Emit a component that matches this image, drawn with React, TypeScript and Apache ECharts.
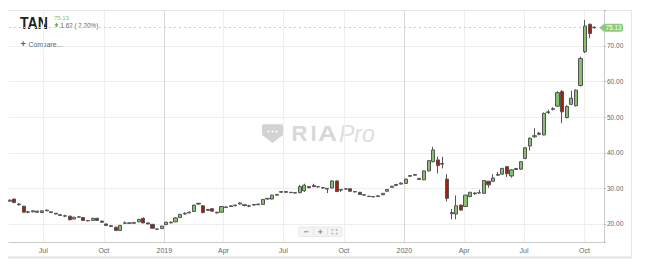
import React, { useEffect, useRef } from 'react';
import * as echarts from 'echarts';

// Weekly candles, first week ending Fri 2018-05-11
const firstWeek = Date.UTC(2018, 4, 11);
const WEEK = 7 * 86400000;

const opens = [
  26.4, 27.0, 25.6, 25.0, 23.4, 23.4, 23.6, 23.2, 23.9, 23.4,
  23.0, 22.6, 22.2, 22.2, 21.4, 21.9, 21.8, 21.0, 21.0, 21.6,
  20.8, 20.0, 19.5, 19.1, 18.2, 20.2, 20.3, 20.2, 20.6, 21.6,
  20.3, 19.9, 18.6, 18.7, 19.8, 20.3, 20.6, 21.8, 22.8, 23.1,
  23.5, 25.8, 25.1, 23.8, 24.3, 23.3, 23.3, 24.6, 24.9, 25.1,
  25.6, 25.4, 25.1, 25.3, 25.4, 25.5, 27.0, 27.0, 28.1, 28.9,
  29.1, 28.9, 28.8, 28.8, 29.3, 30.5, 30.8, 30.5, 30.2, 30.0,
  30.1, 32.1, 29.5, 29.8, 29.9, 29.1, 28.9, 28.2, 27.8, 27.7,
  27.7, 28.2, 29.2, 30.3, 30.8, 31.2, 31.4, 33.4, 33.9, 32.8,
  32.4, 34.9, 37.5, 38.0, 36.8, 32.6, 23.2, 22.8, 25.3, 24.9,
  27.7, 28.7, 28.7, 28.6, 32.0, 32.0, 33.7, 34.0, 36.1, 33.5,
  35.6, 35.4, 38.4, 41.9, 44.5, 45.5, 45.0, 51.3, 52.2, 53.1,
  57.2, 49.9, 53.6, 53.2, 58.9, 68.4, 76.1, 75.3,
];
const closes = [
  26.7, 26.0, 25.4, 23.3, 23.3, 23.7, 23.3, 23.7, 23.7, 23.2,
  22.8, 22.4, 22.3, 21.2, 21.9, 22.0, 21.0, 20.9, 21.6, 21.0,
  20.5, 19.6, 19.3, 18.2, 19.6, 20.3, 20.2, 20.4, 21.3, 20.3,
  20.0, 18.8, 18.5, 19.4, 20.5, 20.5, 21.7, 22.7, 23.0, 23.3,
  25.3, 25.6, 23.2, 24.1, 23.6, 23.1, 24.9, 24.8, 25.1, 25.3,
  25.9, 25.2, 25.0, 25.5, 25.6, 26.9, 27.2, 28.1, 28.3, 29.1,
  28.9, 28.8, 28.7, 30.5, 30.9, 30.2, 30.5, 30.4, 30.1, 29.8,
  32.1, 29.1, 29.7, 29.9, 29.2, 29.0, 28.3, 28.1, 27.7, 27.6,
  27.9, 28.6, 29.7, 30.6, 31.1, 31.5, 32.6, 33.6, 33.7, 32.5,
  34.9, 37.8, 40.8, 36.4, 37.0, 27.2, 22.9, 25.1, 23.9, 28.1,
  28.9, 28.5, 28.8, 32.2, 31.0, 32.9, 33.9, 35.6, 34.1, 35.2,
  35.3, 37.5, 41.4, 44.1, 44.8, 45.2, 51.1, 51.5, 52.4, 56.9,
  51.5, 53.0, 55.3, 57.6, 66.5, 75.6, 73.51, 75.13,
];
const lows = [
  26.2, 25.9, 25.2, 23.2, 23.0, 23.3, 23.2, 23.1, 23.6, 23.1,
  22.7, 22.3, 21.9, 21.0, 21.3, 21.8, 20.9, 20.7, 20.9, 20.9,
  20.4, 19.5, 19.2, 18.1, 18.0, 20.0, 20.1, 20.1, 20.5, 20.2,
  19.9, 18.7, 18.4, 18.6, 19.7, 20.2, 20.5, 21.7, 22.6, 23.0,
  23.4, 25.3, 23.0, 23.7, 23.5, 23.0, 23.2, 24.5, 24.8, 25.0,
  25.4, 24.9, 24.7, 25.2, 25.3, 25.4, 26.9, 26.9, 27.9, 28.8,
  28.8, 28.7, 28.6, 28.6, 29.0, 30.0, 30.3, 30.3, 29.9, 28.7,
  30.0, 29.0, 29.0, 29.6, 29.1, 28.9, 28.2, 28.0, 27.6, 27.5,
  27.6, 28.1, 29.1, 30.2, 30.7, 31.1, 31.3, 33.3, 33.6, 32.4,
  32.3, 34.8, 37.3, 34.2, 35.6, 26.3, 21.3, 21.3, 23.7, 24.8,
  27.5, 28.2, 28.6, 28.5, 30.2, 31.8, 33.5, 33.9, 33.2, 33.0,
  35.2, 35.2, 38.2, 40.6, 44.2, 44.9, 44.9, 50.9, 51.9, 53.0,
  48.3, 49.6, 53.4, 53.0, 58.6, 68.0, 72.2, 74.9,
];
const highs = [
  26.9, 27.1, 25.9, 25.1, 23.7, 23.8, 23.7, 23.8, 24.0, 23.5,
  23.1, 22.7, 22.6, 22.3, 22.0, 22.2, 21.9, 21.1, 21.7, 21.7,
  20.9, 20.1, 19.6, 19.2, 19.7, 20.7, 20.5, 20.5, 21.4, 21.8,
  20.4, 20.0, 18.7, 19.5, 20.6, 20.7, 21.9, 22.8, 23.3, 23.5,
  25.4, 25.9, 25.3, 24.2, 24.4, 23.4, 25.0, 24.9, 25.2, 25.4,
  26.1, 25.6, 25.4, 25.6, 25.7, 27.0, 27.3, 28.2, 28.4, 29.2,
  29.2, 29.0, 28.9, 31.0, 31.3, 30.7, 31.3, 30.6, 30.4, 30.1,
  32.3, 32.2, 29.8, 30.0, 30.0, 29.2, 29.0, 28.3, 27.9, 27.8,
  28.0, 28.7, 29.8, 30.7, 31.2, 31.7, 32.7, 33.7, 34.0, 32.9,
  35.0, 38.0, 41.7, 38.9, 38.9, 34.0, 24.2, 28.0, 25.5, 28.2,
  29.0, 28.9, 29.6, 32.3, 32.1, 34.0, 34.6, 35.8, 36.3, 35.4,
  35.7, 37.7, 41.6, 44.3, 46.9, 45.9, 51.3, 52.1, 52.8, 57.3,
  57.6, 53.4, 57.4, 57.8, 67.0, 77.3, 76.3, 75.4,
];

const quarterTicks = [
  '2018-07-01', '2018-10-01', '2019-01-01', '2019-04-01', '2019-07-01',
  '2019-10-01', '2020-01-01', '2020-04-01', '2020-07-01', '2020-10-01',
];
const quarterLabels = ['Jul', 'Oct', '2019', 'Apr', 'Jul', 'Oct', '2020', 'Apr', 'Jul', 'Oct'];
const yearTicks = ['2019-01-01', '2020-01-01'];
const yTickValues = [20, 30, 40, 50, 60, 70, 80];

const symbol = 'TAN';
const lastPrice = 75.13;
const change = 1.62;
const changePct = 2.2;

const FONT = '"Liberation Sans", Arial, Helvetica, sans-serif';

function ts(s: string) {
  const [y, m, d] = s.split('-').map(Number);
  return Date.UTC(y, m - 1, d);
}

export default function App() {
  const ref = useRef<HTMLDivElement>(null);

  useEffect(() => {
    document.body.style.margin = '0';
    const chart = echarts.init(ref.current!, null, { renderer: 'svg' });
    const tickMs = quarterTicks.map(ts);
    const data = opens.map((o, i) => [firstWeek + i * WEEK, o, closes[i], lows[i], highs[i]]);

    const vLines = tickMs.map((t, i) => ({
      xAxis: t,
      lineStyle: {
        color: yearTicks.indexOf(quarterTicks[i]) >= 0 ? '#d9d9d9' : '#efefef',
        width: 1,
        type: 'solid',
      },
    }));

    chart.setOption({
      animation: false,
      backgroundColor: '#fff',
      grid: { left: 9, right: 41, top: 10.4, bottom: 22.7, containLabel: false },
      xAxis: {
        type: 'value',
        min: Date.UTC(2018, 4, 9, 19),
        max: Date.UTC(2020, 9, 30, 17),
        axisLine: { show: true, lineStyle: { color: '#cccccc', width: 1 } },
        axisTick: { show: false },
        splitLine: { show: false },
        axisLabel: {
          customValues: tickMs,
          formatter: (v: number) => {
            let best = 0;
            let bd = Infinity;
            tickMs.forEach((t, i) => {
              const d = Math.abs(t - v);
              if (d < bd) { bd = d; best = i; }
            });
            return quarterLabels[best];
          },
          color: '#666',
          fontSize: 7,
          fontFamily: FONT,
          margin: 5,
        },
      },
      yAxis: {
        type: 'value',
        position: 'right',
        min: 14.85,
        max: 80,
        axisLine: { show: true, lineStyle: { color: '#cccccc', width: 1 } },
        axisTick: { show: true, length: 2, lineStyle: { color: '#bbbbbb' } },
        splitLine: { show: true, lineStyle: { color: '#eeeeee', width: 1 } },
        axisLabel: {
          formatter: (v: number) =>
            yTickValues.indexOf(Math.round(v * 100) / 100) >= 0 && v < 75 ? v.toFixed(2) : '',
          color: '#666',
          fontSize: 6.5,
          fontFamily: FONT,
          margin: 3,
        },
      },
      series: [
        {
          type: 'candlestick',
          data,
          encode: { x: 0, y: [1, 2, 3, 4] },
          barWidth: 3.6,
          itemStyle: {
            color: '#86c06e',
            color0: '#a81d0b',
            borderColor: '#555555',
            borderColor0: '#555555',
            borderColorDoji: '#555555',
            borderWidth: 1,
          },
          markLine: {
            silent: true,
            symbol: ['none', 'none'],
            z: 1,
            label: { show: false },
            data: [
              ...vLines,
              {
                yAxis: lastPrice,
                lineStyle: { color: '#b9dfa8', width: 1, type: [2, 3] },
              },
            ],
          },
        },
      ],
    });

    const py = chart.convertToPixel({ yAxisIndex: 0 }, lastPrice) as number;

    chart.setOption({
      graphic: [
        // card border
        { type: 'line', shape: { x1: 8, y1: 10.5, x2: 632, y2: 10.5 }, style: { stroke: '#e6e6e6', lineWidth: 1 }, silent: true },
        { type: 'line', shape: { x1: 631.5, y1: 10, x2: 631.5, y2: 258 }, style: { stroke: '#e6e6e6', lineWidth: 1 }, silent: true },
        { type: 'line', shape: { x1: 8, y1: 257.5, x2: 632, y2: 257.5 }, style: { stroke: '#e3e3e3', lineWidth: 2 }, silent: true },
        // header
        { type: 'text', x: 20, y: 15, style: { text: symbol, fontSize: 16, fontWeight: 'bold', fontFamily: FONT, fill: '#222', textVerticalAlign: 'top' }, scaleX: 0.88 },
        { type: 'text', x: 54, y: 14.5, style: { text: lastPrice.toFixed(2), fontSize: 6, fontFamily: FONT, fill: '#8bc34a', textVerticalAlign: 'top' } },
        { type: 'polygon', shape: { points: [[56.5, 22.8], [58.8, 25.2], [57.3, 25.2], [57.3, 27], [55.7, 27], [55.7, 25.2], [54.2, 25.2]] }, style: { fill: '#6ab04c' } },
        { type: 'text', x: 60.5, y: 22.3, style: { text: `${change.toFixed(2)} ( ${changePct.toFixed(2)}%)`, fontSize: 6.3, fontFamily: FONT, fill: '#666', textVerticalAlign: 'top' } },
        { type: 'text', x: 20.5, y: 39.5, style: { text: '+', fontSize: 9, fontWeight: 'bold', fontFamily: FONT, fill: '#1f62c8', textVerticalAlign: 'top' } },
        { type: 'text', x: 28.5, y: 41, style: { text: 'Compare...', fontSize: 6.8, fontFamily: FONT, fill: '#666', textVerticalAlign: 'top' } },
        // price tag
        { type: 'polygon', shape: { points: [[599.3, py], [604, py - 3.9], [604, py + 3.9]] }, style: { fill: '#8dc97a' }, z: 10 },
        { type: 'rect', shape: { x: 603.5, y: py - 3.9, width: 19.5, height: 7.8, r: 2 }, style: { fill: '#8dc97a' }, z: 10 },
        { type: 'text', x: 613.5, y: py, style: { text: lastPrice.toFixed(2), fontSize: 6.3, fontFamily: FONT, fill: '#fff', align: 'center', verticalAlign: 'middle' }, z: 11 },
        // watermark
        { type: 'polygon', shape: { points: [[262, 125.5], [263, 124.2], [282, 124.2], [283, 125.5], [283, 135], [272.5, 143], [262, 135]] }, style: { fill: '#d3d3d3' }, silent: true },
        { type: 'circle', shape: { cx: 268.5, cy: 131.5, r: 1.1 }, style: { fill: '#fff' }, silent: true },
        { type: 'circle', shape: { cx: 272.5, cy: 131.5, r: 1.1 }, style: { fill: '#fff' }, silent: true },
        { type: 'circle', shape: { cx: 276.5, cy: 131.5, r: 1.1 }, style: { fill: '#fff' }, silent: true },
        { type: 'text', x: 291.5, y: 133.5, style: { text: 'R', fontSize: 22, fontWeight: 'bold', fontFamily: FONT, fill: '#d8d8d8', verticalAlign: 'middle' }, silent: true },
        { type: 'text', x: 310.5, y: 133.5, style: { text: 'I', fontSize: 22, fontWeight: 'bold', fontFamily: FONT, fill: '#d8d8d8', verticalAlign: 'middle' }, silent: true },
        { type: 'text', x: 318, y: 133.5, style: { text: 'A', fontSize: 22, fontWeight: 'bold', fontFamily: FONT, fill: '#d8d8d8', verticalAlign: 'middle' }, scaleX: 1.2, silent: true },
        { type: 'text', x: 339, y: 133.5, style: { text: 'Pro', fontSize: 23, fontStyle: 'italic', fontFamily: FONT, fill: '#dedede', verticalAlign: 'middle' }, silent: true },
        // zoom control
        { type: 'rect', shape: { x: 299, y: 227, width: 43, height: 9.5, r: 1 }, style: { fill: '#f4f4f4', stroke: '#e8e8e8', lineWidth: 1 }, silent: true },
        { type: 'line', shape: { x1: 313.5, y1: 228.5, x2: 313.5, y2: 235 }, style: { stroke: '#e2e2e2' } },
        { type: 'line', shape: { x1: 327.5, y1: 228.5, x2: 327.5, y2: 235 }, style: { stroke: '#e2e2e2' } },
        { type: 'line', shape: { x1: 304, y1: 231.8, x2: 308.5, y2: 231.8 }, style: { stroke: '#888', lineWidth: 1 } },
        { type: 'line', shape: { x1: 318, y1: 231.8, x2: 322.5, y2: 231.8 }, style: { stroke: '#888', lineWidth: 1 } },
        { type: 'line', shape: { x1: 320.25, y1: 229.5, x2: 320.25, y2: 234 }, style: { stroke: '#888', lineWidth: 1 } },
        { type: 'polyline', shape: { points: [[332, 231], [332, 229.6], [333.4, 229.6]] }, style: { stroke: '#999', lineWidth: 0.8, fill: 'none' } },
        { type: 'polyline', shape: { points: [[335.6, 229.6], [337, 229.6], [337, 231]] }, style: { stroke: '#999', lineWidth: 0.8, fill: 'none' } },
        { type: 'polyline', shape: { points: [[332, 232.6], [332, 234], [333.4, 234]] }, style: { stroke: '#999', lineWidth: 0.8, fill: 'none' } },
        { type: 'polyline', shape: { points: [[335.6, 234], [337, 234], [337, 232.6]] }, style: { stroke: '#999', lineWidth: 0.8, fill: 'none' } },
      ],
    });

    return () => chart.dispose();
  }, []);

  return <div ref={ref} style={{ width: 645, height: 265 }} />;
}
